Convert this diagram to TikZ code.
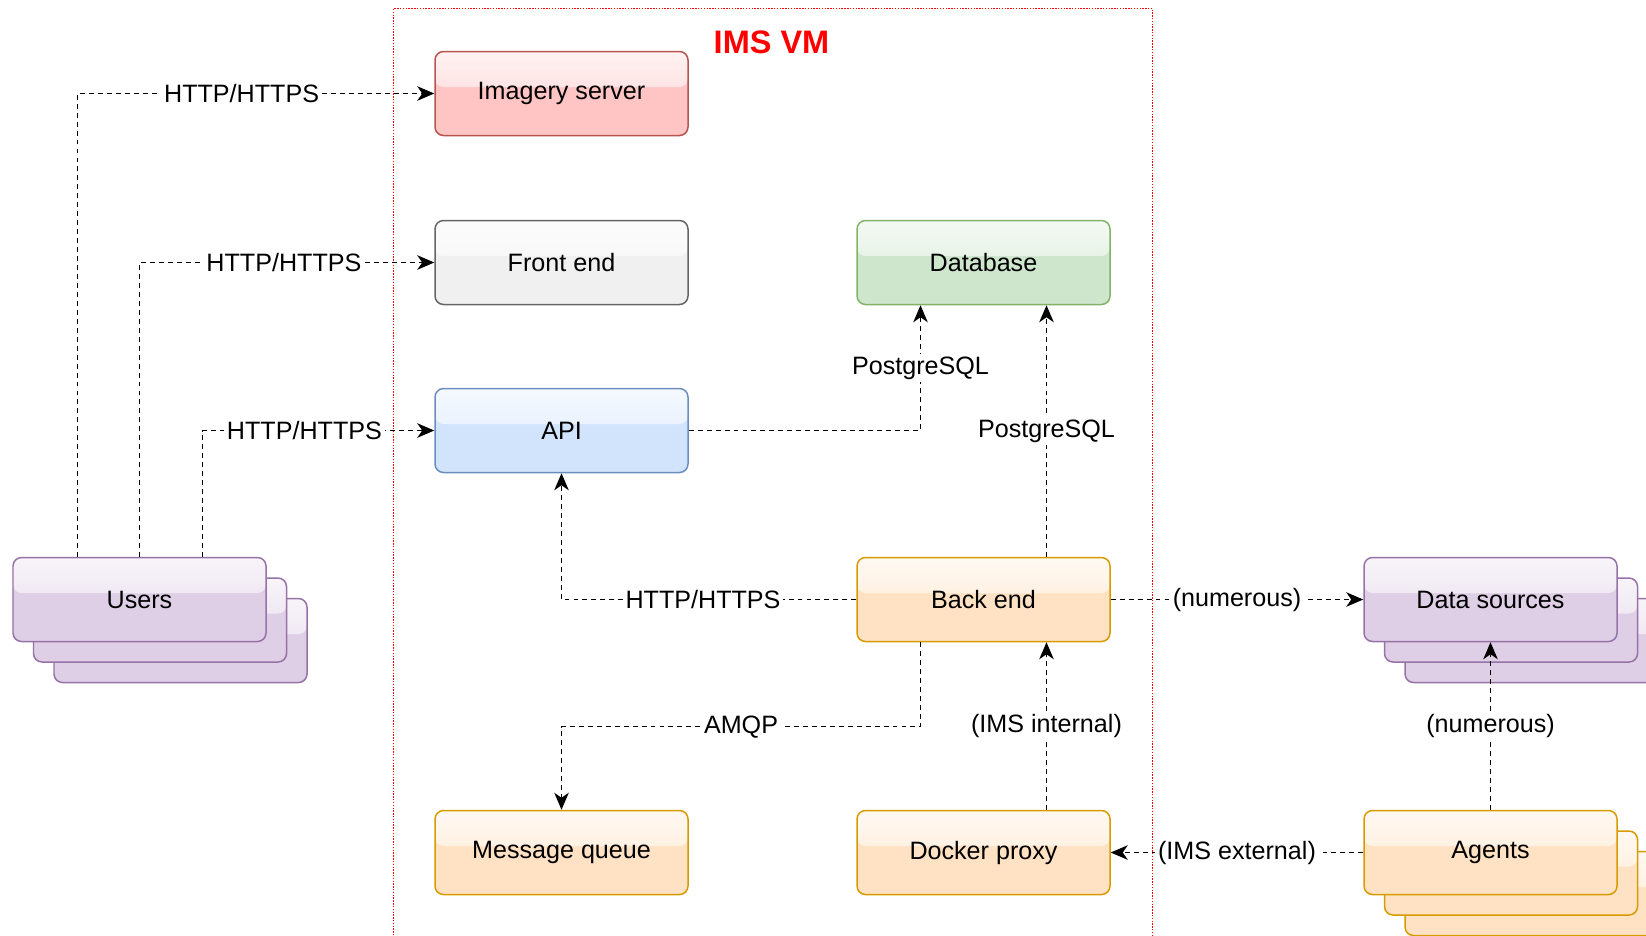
\documentclass[tikz,border=0pt]{standalone}
\usepackage{fontspec}
\setmainfont{Liberation Sans}
\usepackage{xcolor}
\usetikzlibrary{arrows.meta, positioning, calc}

\definecolor{redfill}{HTML}{FFC4C4}    \definecolor{redline}{HTML}{B85450}
\definecolor{greyfill}{HTML}{F0F0F0}   \definecolor{greyline}{HTML}{666666}
\definecolor{bluefill}{HTML}{D2E4FC}   \definecolor{blueline}{HTML}{6C8EBF}
\definecolor{greenfill}{HTML}{CDE6CC}  \definecolor{greenline}{HTML}{82B366}
\definecolor{orangefill}{HTML}{FFE2C4} \definecolor{orangeline}{HTML}{D79B00}
\definecolor{purplefill}{HTML}{DFCFE6} \definecolor{purpleline}{HTML}{9673A6}
\definecolor{vmred}{HTML}{FF0000}

\begin{document}
\begin{tikzpicture}[
    box/.style 2 args = {rectangle, rounded corners=0.17cm, draw=#2, fill=#1,
                  line width=0.85pt, minimum width=5.06cm, minimum height=1.68cm,
                  inner sep=0pt, font=\fontsize{14.3}{17}\selectfont,
                  path picture={\shade[top color=white!78!#1, bottom color=white!22!#1]
                      (path picture bounding box.north west) rectangle
                      ([yshift=0.13cm]path picture bounding box.east);}},
    lbl/.style  = {fill=white, inner sep=1.5pt, font=\fontsize{14.3}{17}\selectfont},
    link/.style = {-{Stealth[length=3.4mm,width=2.9mm,inset=1mm]}, line width=0.7pt,
                   dash pattern=on 2.8pt off 2.3pt},
    vmframe/.style = {draw=vmred, line width=0.6pt, dash pattern=on 0.8pt off 0.8pt},
    vmtitle/.style = {text=vmred, font=\fontsize{18.5}{22}\selectfont\bfseries}
  ]

  \clip (0,0) rectangle (32.92,-18.70);

  % ----------------------------------------------------------------
  % IMS VM frame (bottom edge runs off the page)
  % ----------------------------------------------------------------
  \node[vmframe, minimum width=15.18cm, minimum height=19.34cm] (vm) at (15.46,-9.84) {};
  \node[vmtitle] (vmlabel) at (15.43,-0.84) {IMS VM};

  % ----------------------------------------------------------------
  % Single boxes
  % ----------------------------------------------------------------
  \foreach \nm/\xx/\yy/\fc/\lc/\lbl in {
      imagery/11.23/-1.87/redfill/redline/{Imagery server},
      frontend/11.23/-5.25/greyfill/greyline/{Front end},
      api/11.23/-8.61/bluefill/blueline/{API},
      database/19.67/-5.25/greenfill/greenline/{Database},
      backend/19.67/-11.99/orangefill/orangeline/{Back end},
      mq/11.23/-17.05/orangefill/orangeline/{Message queue},
      docker/19.67/-17.05/orangefill/orangeline/{Docker proxy}}{
    \node[box={\fc}{\lc}] (\nm) at (\xx,\yy) {\lbl};
  }

  % ----------------------------------------------------------------
  % Stacked boxes: two copies behind, front one carries the label
  % ----------------------------------------------------------------
  \foreach \nm/\xx/\yy/\fc/\lc/\lbl in {
      users/2.79/-11.99/purplefill/purpleline/{Users},
      sources/29.81/-11.99/purplefill/purpleline/{Data sources},
      agents/29.81/-17.05/orangefill/orangeline/{Agents}}{
    \foreach \k in {2,1}{
      \node[box={\fc}{\lc}] (\nm\k) at (\xx+0.41*\k, \yy-0.41*\k) {};
    }
    \node[box={\fc}{\lc}] (\nm) at (\xx,\yy) {\lbl};
  }

  % ----------------------------------------------------------------
  % Users -> web facing services
  % ----------------------------------------------------------------
  \draw[link] ([xshift=-1.24cm]users.north) |- node[lbl, pos=0.73] {HTTP/HTTPS} (imagery.west);
  \draw[link] (users.north) |- node[lbl, pos=0.745] {HTTP/HTTPS} (frontend.west);
  \draw[link] ([xshift=1.26cm]users.north) |- node[lbl, pos=0.72] {HTTP/HTTPS} (api.west);

  % ----------------------------------------------------------------
  % Inside the VM
  % ----------------------------------------------------------------
  \draw[link] (api.east) -| node[lbl, pos=0.75] {PostgreSQL} ([xshift=-1.26cm]database.south);
  \draw[link] ([xshift=1.26cm]backend.north) -- node[lbl] {PostgreSQL} ([xshift=1.26cm]database.south);
  \draw[link] (backend.west) -| node[lbl, pos=0.26] {HTTP/HTTPS} (api.south);
  \draw[link] ([xshift=-1.26cm]backend.south) -- ++(0,-1.69)
        -| node[lbl, pos=0.25] {AMQP} (mq.north);
  \draw[link] ([xshift=1.26cm]docker.north) -- node[lbl] {(IMS internal)} ([xshift=1.26cm]backend.south);

  % ----------------------------------------------------------------
  % Outside world
  % ----------------------------------------------------------------
  \draw[link] (backend.east) -- node[lbl] {(numerous)} (sources.west);
  \draw[link] (agents.north) -- node[lbl] {(numerous)} (sources.south);
  \draw[link] (agents.west) -- node[lbl] {(IMS external)} (docker.east);

\end{tikzpicture}
\end{document}
